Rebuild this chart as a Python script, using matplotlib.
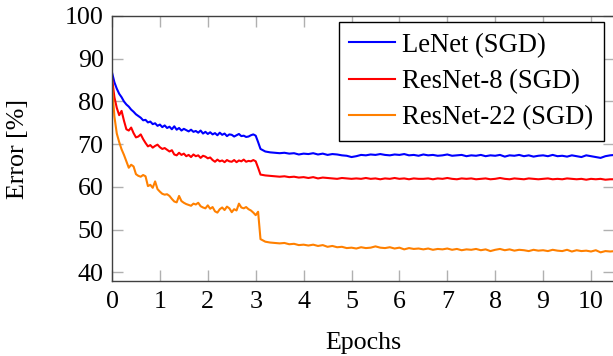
import numpy as np
import matplotlib
matplotlib.use("Agg")
import matplotlib.pyplot as plt

plt.rcParams['font.family'] = ['Liberation Serif', 'DejaVu Serif']
plt.rcParams['font.size'] = 18.7

# ---- data ----
# first part: epochs 0.00 .. 3.10 (step 0.05); second part: 3.2 .. 10.5 (step 0.1)
epochs_a = np.round(np.linspace(0.0, 3.1, 63), 2)
epochs_b = np.round(np.linspace(3.2, 10.5, 74), 2)

lenet_a = [86.8, 84.5, 83.0, 81.8, 81.0, 80.0, 79.3, 78.8, 78.1, 77.6,
           77.0, 76.6, 76.2, 75.6, 75.7, 75.1, 75.3, 74.7, 74.9, 74.3,
           74.6, 74.0, 74.4, 73.8, 74.1, 73.5, 74.2, 73.4, 73.8, 73.2,
           73.6, 73.3, 73.0, 73.4, 72.9, 73.1, 72.7, 73.2, 72.5, 72.9,
           72.4, 72.8, 72.3, 72.6, 72.1, 72.7, 72.2, 72.5, 71.9, 72.3,
           72.2, 71.8, 72.1, 72.4, 71.9, 72.0, 71.7, 71.8, 72.1, 72.3,
           72.0, 70.5, 68.9]
lenet_b = [68.3, 68.1, 68.0, 67.9, 68.0, 67.8, 67.9, 67.6, 67.8, 67.7,
           67.9, 67.6, 67.8, 67.5, 67.7, 67.6, 67.4, 67.3, 67.0, 67.2,
           67.5, 67.4, 67.6, 67.5, 67.7, 67.5, 67.4, 67.6, 67.5, 67.7,
           67.4, 67.5, 67.3, 67.6, 67.4, 67.5, 67.3, 67.4, 67.6, 67.3,
           67.4, 67.5, 67.2, 67.4, 67.3, 67.5, 67.2, 67.4, 67.3, 67.5,
           67.1, 67.4, 67.3, 67.5, 67.2, 67.4, 67.1, 67.3, 67.4, 67.2,
           67.5, 67.2, 67.3, 67.1, 67.4, 67.2, 67.0, 67.4, 67.2, 67.0,
           66.8, 67.2, 67.4, 67.5]

resnet8_a = [85.5, 81.0, 78.5, 76.8, 77.8, 75.5, 73.5, 73.2, 73.9, 72.6,
             71.6, 71.8, 72.3, 71.2, 70.3, 69.5, 69.8, 69.2, 69.6, 69.9,
             69.3, 68.9, 69.1, 68.7, 68.3, 68.6, 67.6, 67.4, 68.0, 67.5,
             67.8, 67.2, 67.5, 67.0, 67.6, 67.2, 67.4, 66.8, 67.3, 67.1,
             66.7, 66.9, 66.3, 65.9, 66.4, 66.0, 66.2, 65.8, 66.3, 66.0,
             65.9, 66.3, 65.8, 66.2, 66.0, 66.4, 65.9, 66.1, 66.0, 66.3,
             66.0, 64.5, 62.9]
resnet8_b = [62.7, 62.6, 62.5, 62.4, 62.5, 62.3, 62.4, 62.2, 62.3, 62.1,
             62.3, 62.0, 62.2, 62.1, 62.0, 61.9, 62.1, 62.0, 61.9, 62.0,
             61.9, 62.1, 61.9, 62.0, 61.8, 62.0, 61.9, 62.1, 61.9, 62.0,
             61.8, 62.0, 61.9, 61.9, 62.0, 61.8, 62.0, 61.9, 62.1, 61.9,
             61.8, 62.0, 61.9, 62.0, 61.8, 61.9, 62.0, 61.8, 61.9, 62.1,
             61.9, 61.8, 62.0, 61.9, 61.8, 62.0, 61.9, 61.8, 61.9, 62.0,
             61.8, 61.9, 61.8, 62.0, 61.9, 61.8, 61.9, 61.7, 61.9, 61.8,
             61.9, 61.7, 61.8, 61.8]

resnet22_a = [84.0, 76.5, 72.5, 70.5, 68.8, 67.5, 66.0, 64.5, 65.2, 64.8,
              63.0, 62.6, 62.4, 62.8, 62.5, 60.2, 60.5, 59.8, 61.3, 59.5,
              58.9, 58.4, 58.2, 58.3, 57.9, 57.2, 56.6, 56.4, 57.9, 56.7,
              56.3, 56.0, 55.8, 55.6, 56.1, 55.9, 56.3, 55.5, 55.2, 55.0,
              55.7, 54.9, 55.3, 54.3, 54.0, 54.8, 55.2, 54.6, 55.4, 55.0,
              54.1, 54.8, 54.5, 56.1, 55.2, 55.0, 55.3, 54.8, 54.5, 54.0,
              53.4, 54.2, 47.8]
resnet22_b = [47.2, 47.0, 46.9, 46.8, 46.9, 46.6, 46.7, 46.4, 46.5, 46.3,
              46.5, 46.2, 46.4, 46.0, 46.2, 45.9, 46.0, 45.7, 45.8, 45.6,
              45.9, 45.7, 45.8, 46.1, 45.8, 45.7, 45.9, 45.6, 45.8, 45.4,
              45.7, 45.5, 45.6, 45.4, 45.6, 45.3, 45.5, 45.4, 45.6, 45.3,
              45.5, 45.2, 45.4, 45.3, 45.5, 45.2, 45.4, 45.0, 45.3, 45.5,
              45.2, 45.4, 45.1, 45.3, 45.2, 45.0, 45.3, 45.1, 45.2, 45.0,
              45.3, 45.1, 45.0, 45.3, 44.9, 45.2, 45.0, 45.1, 44.9, 45.2,
              44.7, 45.0, 44.9, 45.0]

labels = ["LeNet (SGD)", "ResNet-8 (SGD)", "ResNet-22 (SGD)"]
colors = ["#0000ff", "#ff0000", "#ff8000"]
xticks = [0, 1, 2, 3, 4, 5, 6, 7, 8, 9, 10]
yticks = [40, 50, 60, 70, 80, 90, 100]

W, H = 613, 356
fig = plt.figure(figsize=(W / 100, H / 100), dpi=100)
ax = fig.add_axes([112 / W, 1 - 281 / H, (614 - 112) / W, (281 - 16) / H])

epochs = np.concatenate([epochs_a, epochs_b])
series = [lenet_a + lenet_b, resnet8_a + resnet8_b, resnet22_a + resnet22_b]
for vals, lab, col in zip(series, labels, colors):
    ax.plot(epochs, vals, color=col, lw=1.5, label=lab)

ax.set_xlim(0, 10.48)
ax.set_ylim(38, 100)
ax.set_xticks(xticks)
ax.set_yticks(yticks)
ax.tick_params(direction='in', length=8, width=1, color='#b0b0b0',
               top=True, right=True, labelsize=18.7)
ax.tick_params(axis='x', pad=7)
ax.tick_params(axis='y', pad=6)
for s in ax.spines.values():
    s.set_color('#404040')
    s.set_linewidth(1.0)

fig.text(18 / W, 1 - 149 / H, "Error [%]", rotation=90, ha='center', va='center', fontsize=18.7)
fig.text(363 / W, 1 - 343 / H, "Epochs", ha='center', va='center', fontsize=18.7)

leg = ax.legend(loc='upper right', bbox_to_anchor=(604 / W, 1 - 22 / H),
                bbox_transform=fig.transFigure, borderaxespad=0,
                fancybox=False, framealpha=1, edgecolor='black',
                handlelength=1.7, handletextpad=0.28, labelspacing=0.42,
                borderpad=0.4, fontsize=19.2)
leg.get_frame().set_linewidth(1.0)

fig.savefig("out.png", dpi=100)
